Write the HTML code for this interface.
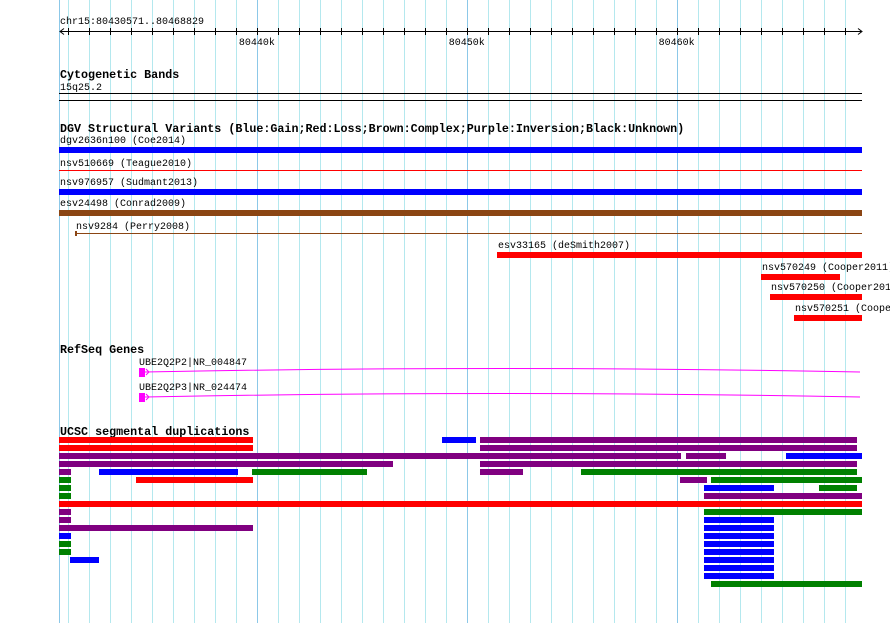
<!DOCTYPE html>
<html><head><meta charset="utf-8"><style>
html,body{margin:0;padding:0;background:#fff;}
svg{display:block;font-family:"Liberation Mono",monospace;}
.t{font-size:10px;fill:#000;}
.b{font-size:11.7px;font-weight:bold;fill:#000;}
</style></head><body>
<svg id="c" width="890" height="623" viewBox="0 0 890 623" xmlns="http://www.w3.org/2000/svg">
<rect width="890" height="623" fill="#fff"/>
<g id="grid"></g>
<g id="axis"></g>
<text class="t" x="60" y="24">chr15:80430571..80468829</text>
<text class="b" x="60" y="78">Cytogenetic Bands</text>
<text class="t" x="60" y="90">15q25.2</text>
<line x1="59" y1="93.5" x2="862" y2="93.5" stroke="#000"/>
<line x1="59" y1="100.5" x2="862" y2="100.5" stroke="#000"/>
<text class="b" x="60" y="132">DGV Structural Variants (Blue:Gain;Red:Loss;Brown:Complex;Purple:Inversion;Black:Unknown)</text>
<g id="dgv"></g>
<text class="b" x="60" y="353">RefSeq Genes</text>
<g id="genes"></g>
<text class="b" x="60" y="435">UCSC segmental duplications</text>
<g id="segdup"></g>
</svg>
<script>
const START=80430571, END=80468829;
const tickKb=[80431,80432,80433,80434,80435,80436,80437,80438,80439,80440,80441,80442,80443,80444,80445,80446,80447,80448,80449,80450,80451,80452,80453,80454,80455,80456,80457,80458,80459,80460,80461,80462,80463,80464,80465,80466,80467,80468];
const majorLabels=["80440k","80450k","80460k"];
const majorKb=[80440,80450,80460];
// DGV variants: name, start, end, color, style, row y, label y
const dgvNames=["dgv2636n100 (Coe2014)","nsv510669 (Teague2010)","nsv976957 (Sudmant2013)","esv24498 (Conrad2009)","nsv9284 (Perry2008)","esv33165 (deSmith2007)","nsv570249 (Cooper2011)","nsv570250 (Cooper2011)","nsv570251 (Cooper2011)"];
const dgvStart=[80430571,80430571,80430571,80430571,80431333,80451439,80464017,80464446,80465589];
const dgvEnd=[80468829,80468829,80468829,80468829,80468829,80468829,80467781,80468829,80468829];
const dgvColor=["#0000ff","#ff0000","#0000ff","#8b4513","#8b4513","#ff0000","#ff0000","#ff0000","#ff0000"];
const dgvThin=[0,1,0,0,1,0,0,0,0];
// genes
const geneNames=["UBE2Q2P2|NR_004847","UBE2Q2P3|NR_024474"];
const geneStart=[80434383,80434383];
const geneEnd=[80468734,80468734];
const exonEnd=[80434668,80434668];
// segmental duplications: row, start, end, color
const sdRow=[0,0,0,1,1,2,2,2,3,3,4,4,4,4,4,5,5,5,5,6,6,6,7,7,8,9,9,10,10,11,11,12,12,13,13,14,14,15,15,16,17,18];
const sdStart=[80430571,80448819,80450629,80430571,80450629,80430571,80460444,80465208,80430571,80450629,80430571,80432477,80439766,80450629,80455441,80430571,80434240,80460158,80461635,80430571,80461301,80466780,80430571,80461301,80430571,80430571,80461301,80430571,80461301,80430571,80461301,80430571,80461301,80430571,80461301,80430571,80461301,80431095,80461301,80461301,80461301,80461635];
const sdEnd=[80439814,80450439,80468591,80439814,80468591,80460206,80462350,80468829,80446484,80468591,80431143,80439099,80445245,80452678,80468591,80431143,80439814,80461444,80468829,80431143,80464636,80468591,80431143,80468829,80468829,80431143,80468829,80431143,80464636,80439814,80464636,80431143,80464636,80431143,80464636,80431143,80464636,80432477,80464636,80464636,80464636,80468829];
const sdColor=["r","b","p","r","p","p","p","b","p","p","p","b","g","p","g","g","r","p","g","g","b","g","g","p","r","p","g","p","b","p","b","b","b","g","b","g","b","b","b","b","b","g"];
const colorMap={r:"#ff0000",b:"#0000ff",p:"#800080",g:"#008000"};

const NS="http://www.w3.org/2000/svg";
function x(bp){return 59+(bp-START)*803/(END-START);}
function mk(tag,attrs,parent){const e=document.createElementNS(NS,tag);for(const k in attrs)e.setAttribute(k,attrs[k]);parent.appendChild(e);return e;}
const grid=document.getElementById('grid'), axis=document.getElementById('axis');
let gl=mk('line',{x1:59.5,y1:0,x2:59.5,y2:623,stroke:'#8cc8e8'},grid);


tickKb.forEach(k=>{
  const xx=Math.round(x(k*1000))+0.5;
  const major=majorKb.includes(k);
  const l=mk('line',{x1:xx,y1:0,x2:xx,y2:623,stroke:major?'#8cc8e8':'#b4e8ee'},grid);
  
  
  const t=mk('line',{x1:xx,y1:28,x2:xx,y2:35,stroke:'#000'},axis);
  
  
});
let al=mk('line',{x1:60,y1:31.5,x2:861,y2:31.5,stroke:'#000'},axis);


let ar=mk('path',{d:'M64 28.5 L60 31.5 L64 34.5 M858 28.5 L862 31.5 L858 34.5',stroke:'#000',fill:'none'},axis);


majorKb.forEach((k,i)=>{
  const t=mk('text',{x:x(k*1000),y:45,'text-anchor':'middle',class:'t'},axis);
  t.textContent=majorLabels[i];
  
  
});
// DGV
const dgv=document.getElementById('dgv');
dgvNames.forEach((n,i)=>{
  const barY=[147,170,189,210,233,252,274,294,315][i];
  const lx=x(dgvStart[i])+1;
  const t=mk('text',{x:lx,y:barY-4,class:'t'},dgv);
  t.textContent=n;
  
  
  let r;
  if(dgvThin[i]){
    r=mk('rect',{x:x(dgvStart[i]),y:barY,width:x(dgvEnd[i])-x(dgvStart[i]),height:1,fill:dgvColor[i]},dgv);
    if(i===4){const tk=mk('rect',{x:x(dgvStart[i]),y:barY-2,width:2,height:5,fill:dgvColor[i]},dgv);
      
      }
  } else {
    r=mk('rect',{x:x(dgvStart[i]),y:barY,width:x(dgvEnd[i])-x(dgvStart[i]),height:6,fill:dgvColor[i]},dgv);
  }
  
  
});
// genes
const genes=document.getElementById('genes');
geneNames.forEach((n,i)=>{
  const y0=372+i*25;
  const t=mk('text',{x:x(geneStart[i]),y:y0-7,class:'t'},genes);
  t.textContent=n;
  
  
  const x1=x(exonEnd[i]), x2=x(geneEnd[i]), xm=(x1+x2)/2;
  const p=mk('path',{d:`M${x1} ${y0} Q${xm} ${y0-7} ${x2} ${y0}`,stroke:'#ff00ff',fill:'none','stroke-width':1},genes);
  
  
  const e=mk('rect',{x:x(geneStart[i]),y:y0-4,width:x1-x(geneStart[i]),height:9,fill:'#ff00ff'},genes);
  
  
  const a=mk('path',{d:`M${x1+1} ${y0-3} L${x1+4} ${y0} L${x1+1} ${y0+3}`,stroke:'#ff00ff',fill:'none'},genes);
  
  
});
// segdups
const sd=document.getElementById('segdup');
sdRow.forEach((r,i)=>{
  const xa=x(sdStart[i]), xb=x(sdEnd[i]);
  const e=mk('rect',{x:xa,y:437+r*8,width:xb-xa,height:6,fill:colorMap[sdColor[i]]},sd);
  
  
});
</script>
</body></html>
